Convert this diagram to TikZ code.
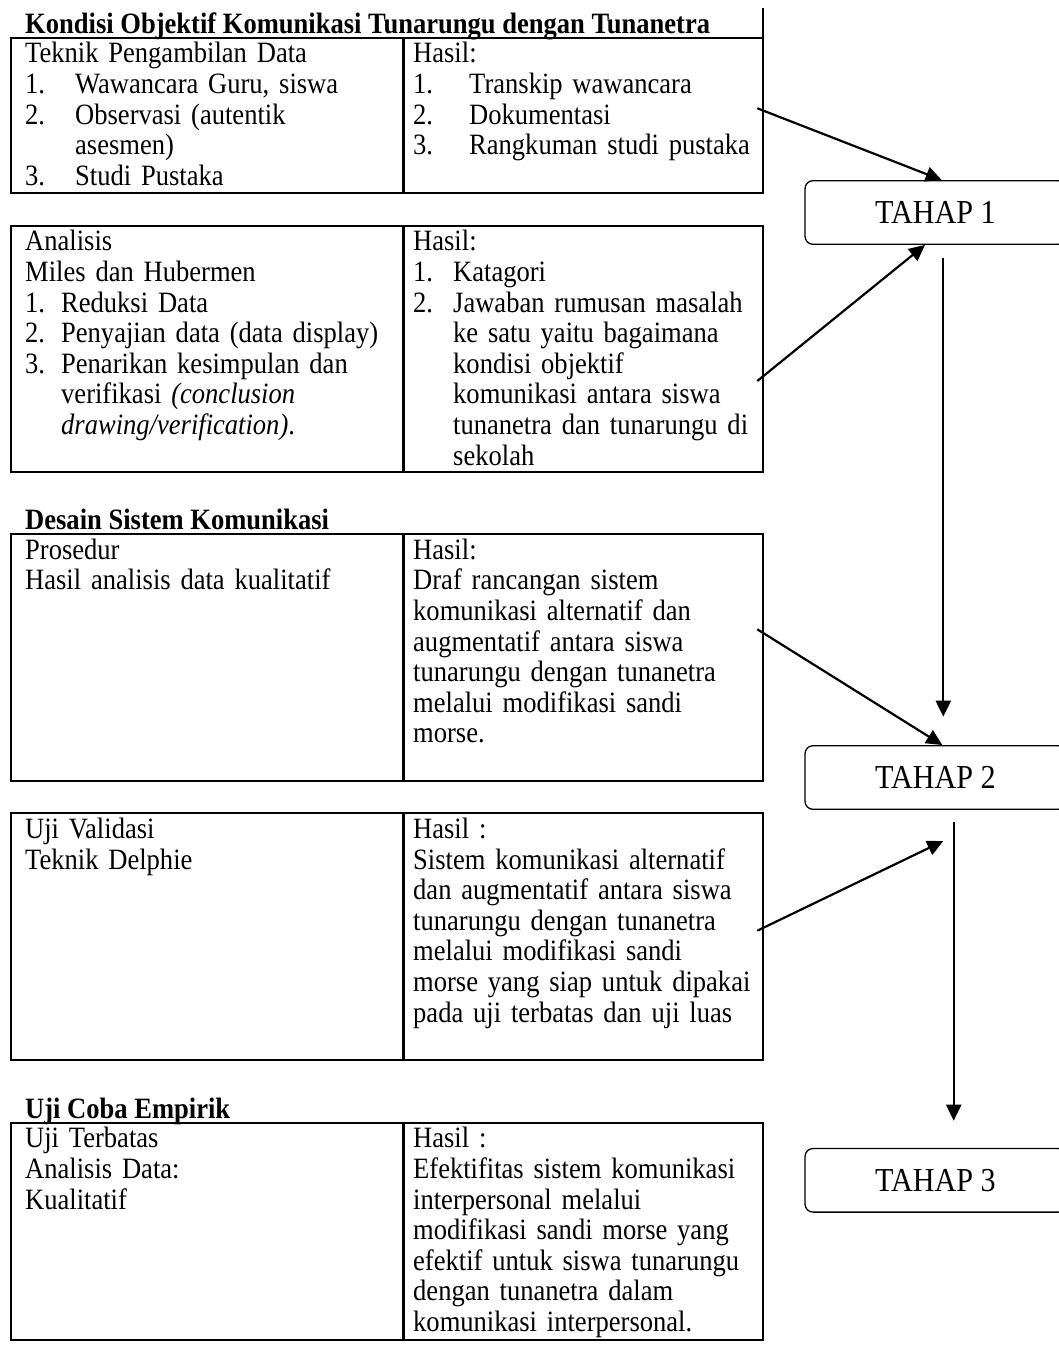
\documentclass[tikz,border=0pt]{standalone}
\usepackage{fontspec}
\setmainfont{Liberation Serif}[FakeStretch=0.9]
\usetikzlibrary{arrows.meta}
\setlength{\parindent}{0pt}
\setlength{\parskip}{0pt}
\newcommand{\cellfont}{\fontsize{29.5pt}{30.6pt}\selectfont}
\newcommand{\numit}[3]{\par\hangindent=#1\hangafter=1\noindent\strut\makebox[#1][l]{#2}#3\par}

\begin{document}
\begin{tikzpicture}[x=1pt,y=-1pt,
    cell/.style={anchor=north west,inner sep=0pt,text width=380pt,align=left,font=\cellfont},
    judul/.style={anchor=base west,inner sep=0pt,font=\cellfont\bfseries},
    tahap/.style={draw,line width=1.3pt,rounded corners=8pt,minimum width=261pt,minimum height=63.6pt,font=\fontsize{33.5pt}{36pt}\selectfont},
    tbl/.style={line width=2.2pt},
    arr/.style={line width=2.2pt,-{Triangle[length=16pt,width=15pt]}}]
    \clip(0,0)rectangle(1059,1359);

    %% tabel
    \draw[tbl](10.7,37.7)rectangle(762.7,192.7);
    \draw[tbl](403.5,37.7)--(403.5,192.7);
    \draw[tbl](762.7,8)--(762.7,37.7);
    \draw[tbl](10.7,225.7)rectangle(762.7,471.7);
    \draw[tbl](403.5,225.7)--(403.5,471.7);
    \draw[tbl](10.7,534)rectangle(762.7,780.7);
    \draw[tbl](403.5,534)--(403.5,780.7);
    \draw[tbl](10.7,813.3)rectangle(762.7,1060);
    \draw[tbl](403.5,813.3)--(403.5,1060);
    \draw[tbl](10.7,1122.7)rectangle(762.7,1340);
    \draw[tbl](403.5,1122.7)--(403.5,1340);

    \node[judul](jdlKondisi)at(25,33.2){Kondisi Objektif Komunikasi Tunarungu dengan Tunanetra};
    \node[judul](jdlDesain)at(25,529.5){Desain Sistem Komunikasi};
    \node[judul](jdlUji)at(25,1118.2){Uji Coba Empirik};

    \node[cell](ambil)at(25,41.3){\strut Teknik Pengambilan Data
        \numit{50pt}{1.}{Wawancara Guru, siswa}
        \numit{50pt}{2.}{Observasi (autentik\newline asesmen)}
        \numit{50pt}{3.}{Studi Pustaka}};
    \node[cell](hasil1)at(413,41.3){\strut Hasil:
        \numit{56pt}{1.}{Transkip wawancara}
        \numit{56pt}{2.}{Dokumentasi}
        \numit{56pt}{3.}{Rangkuman studi pustaka}};

    \node[cell](analisis)at(25,229.3){\strut Analisis\\Miles dan Hubermen
        \numit{36pt}{1.}{Reduksi Data}
        \numit{36pt}{2.}{Penyajian data (data display)}
        \numit{36pt}{3.}{Penarikan kesimpulan dan\newline verifikasi \textit{(conclusion}\newline \textit{drawing/verification)}.}};
    \node[cell](hasil2)at(413,229.3){\strut Hasil:
        \numit{40pt}{1.}{Katagori}
        \numit{40pt}{2.}{Jawaban rumusan masalah\newline ke satu yaitu bagaimana\newline kondisi objektif\newline komunikasi antara siswa\newline tunanetra dan tunarungu di\newline sekolah}};

    \node[cell](prosedur)at(25,537.6){\strut Prosedur\\Hasil analisis data kualitatif};
    \node[cell](hasil3)at(413,537.6){\strut Hasil:\\Draf rancangan sistem\\komunikasi alternatif dan\\augmentatif antara siswa\\tunarungu dengan tunanetra\\melalui modifikasi sandi\\morse.};

    \node[cell](validasi)at(25,816.9){\strut Uji Validasi\\Teknik Delphie};
    \node[cell](hasil4)at(413,816.9){\strut Hasil :\\Sistem komunikasi alternatif\\dan augmentatif antara siswa\\tunarungu dengan tunanetra\\melalui modifikasi sandi\\morse yang siap untuk dipakai\\pada uji terbatas dan uji luas};

    \node[cell](terbatas)at(25,1126.3){\strut Uji Terbatas\\Analisis Data:\\Kualitatif};
    \node[cell](hasil5)at(413,1126.3){\strut Hasil :\\Efektifitas sistem komunikasi\\interpersonal melalui\\modifikasi sandi morse yang\\efektif untuk siswa tunarungu\\dengan tunanetra dalam\\komunikasi interpersonal.};

    %% tahap
    \node[tahap](tahap1)at(935.5,212.5){TAHAP 1};
    \node[tahap](tahap2)at(935.5,777.5){TAHAP 2};
    \node[tahap](tahap3)at(935.5,1180.3){TAHAP 3};

    \coordinate(dari1)at(757.3,108.3);
    \coordinate(dari2)at(757.3,381);
    \coordinate(dari3)at(757.3,629.3);
    \coordinate(dari4)at(757.3,930.7);
    \coordinate(turun1a)at(943.3,258.3);
    \coordinate(turun1b)at(943.3,716.7);
    \coordinate(ujung4)at(943.3,841);
    \coordinate(turun2a)at(953.7,822.3);
    \coordinate(turun2b)at(953.7,1120.7);

    \draw[arr](dari1)--([xshift=6.2pt]tahap1.north);
    \draw[arr](dari2)--([xshift=-10.5pt]tahap1.south);
    \draw[arr](turun1a)--(turun1b);
    \draw[arr](dari3)--([xshift=6.8pt]tahap2.north);
    \draw[arr](dari4)--(ujung4);
    \draw[arr](turun2a)--(turun2b);
\end{tikzpicture}
\end{document}
